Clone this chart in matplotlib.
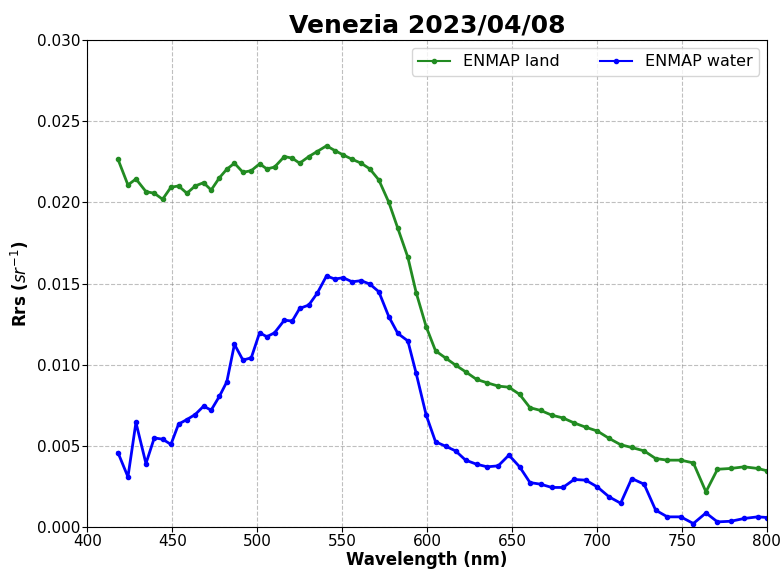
import numpy as np
import matplotlib
matplotlib.use("Agg")
import matplotlib.pyplot as plt

# ENMAP band centres (nm)
wavelength = [418.0, 423.9, 428.6, 434.5, 439.4, 444.3, 449.2, 453.7, 458.6, 463.5,
              468.4, 472.9, 477.8, 482.1, 486.6, 491.6, 496.5, 501.4, 505.7, 510.2,
              516.0, 520.6, 525.0, 530.4, 535.3, 540.8, 545.7, 550.6, 555.9, 561.2,
              566.3, 571.6, 577.5, 582.8, 588.7, 593.6, 599.5, 605.0, 610.9, 616.8,
              622.7, 629.2, 635.4, 641.9, 648.2, 654.5, 660.6, 666.9, 673.4, 680.0,
              686.6, 693.4, 700.3, 707.2, 714.0, 720.5, 727.8, 734.6, 741.5, 749.4,
              756.8, 764.2, 771.0, 778.9, 786.7, 794.6, 800.4]

# Rrs values (x 1e-3 sr^-1)
rrs_land = [22.66, 21.07, 21.44, 20.66, 20.56, 20.19, 20.93, 21.01, 20.56, 21.01,
            21.21, 20.76, 21.52, 22.04, 22.41, 21.85, 21.95, 22.37, 22.06, 22.17,
            22.82, 22.72, 22.41, 22.82, 23.13, 23.48, 23.19, 22.92, 22.65, 22.41,
            22.06, 21.38, 20.00, 18.40, 16.62, 14.44, 12.34, 10.86, 10.42, 9.98,
            9.57, 9.10, 8.89, 8.69, 8.62, 8.18, 7.36, 7.19, 6.90, 6.73,
            6.42, 6.16, 5.92, 5.47, 5.08, 4.91, 4.70, 4.23, 4.13, 4.13,
            3.96, 2.18, 3.57, 3.62, 3.72, 3.62, 3.47]

rrs_water = [4.60, 3.10, 6.45, 3.92, 5.50, 5.42, 5.10, 6.35, 6.63, 6.94,
             7.45, 7.21, 8.07, 8.95, 11.26, 10.29, 10.43, 11.97, 11.73, 11.97,
             12.75, 12.69, 13.47, 13.68, 14.40, 15.47, 15.28, 15.36, 15.11, 15.18,
             14.97, 14.50, 12.96, 11.93, 11.47, 9.47, 6.90, 5.26, 4.99, 4.70,
             4.13, 3.88, 3.72, 3.78, 4.44, 3.72, 2.75, 2.65, 2.45, 2.45,
             2.94, 2.90, 2.48, 1.87, 1.48, 3.00, 2.65, 1.05, 0.64, 0.64,
             0.23, 0.88, 0.33, 0.37, 0.54, 0.64, 0.60]

wl = np.array(wavelength)
land = np.array(rrs_land) * 1e-3
water = np.array(rrs_water) * 1e-3

fig, ax = plt.subplots(figsize=(7.8, 5.7), dpi=100)
fig.subplots_adjust(left=0.112, right=0.983, top=0.93, bottom=0.075)

ax.plot(wl, land, color='forestgreen', marker='o', markersize=3, linewidth=2, label='ENMAP land')
ax.plot(wl, water, color='blue', marker='o', markersize=3, linewidth=2, label='ENMAP water')

ax.set_xlim(400, 800)
ax.set_ylim(0, 0.030)
ax.set_xticks(np.arange(400, 801, 50))
ax.set_yticks(np.arange(0, 0.0301, 0.005))
ax.tick_params(labelsize=11, pad=1.5)
ax.grid(True, linestyle='--', color='gray', alpha=0.5)

ax.set_title('Venezia 2023/04/08', fontsize=18, fontweight='bold', pad=5)
ax.set_xlabel('Wavelength (nm)', fontsize=12, fontweight='bold', labelpad=1)
ax.set_ylabel('Rrs ($sr^{-1}$)', fontsize=12, fontweight='bold')
leg = ax.legend(loc='upper right', ncol=2, fontsize=11.5, columnspacing=2.5)
for h in leg.get_lines():
    h.set_linewidth(1.5)

fig.savefig('out.png')
